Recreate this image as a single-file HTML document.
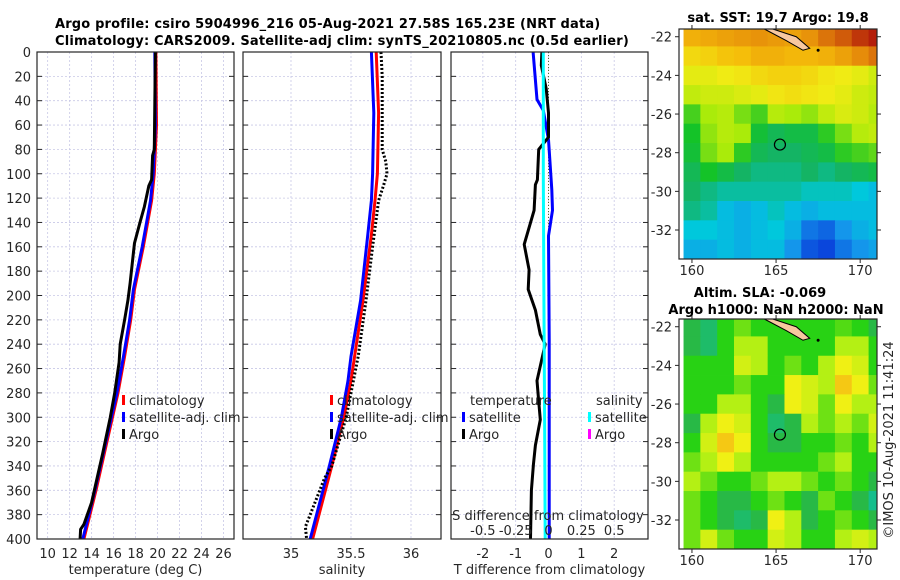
<!DOCTYPE html>
<html><head><meta charset="utf-8"><style>
body{margin:0;background:#fff;}
svg{display:block;font-family:"DejaVu Sans","Liberation Sans",sans-serif;}
.t{font-size:13px;fill:#262626;}
.b{font-size:13px;font-weight:bold;fill:#000;}
.hd{letter-spacing:0.17px;}
</style></head><body>
<svg id="fig" width="900" height="580" viewBox="0 0 900 580" xmlns="http://www.w3.org/2000/svg">
<text class="b hd" x="55" y="28">Argo profile: csiro 5904996_216 05-Aug-2021 27.58S 165.23E (NRT data)</text>
<text class="b hd" x="55" y="45">Climatology: CARS2009. Satellite-adj clim: synTS_20210805.nc (0.5d earlier)</text>
<g id="g"></g>
</svg>
<script>
// depth axis
const depthTicks=[0,20,40,60,80,100,120,140,160,180,200,220,240,260,280,300,320,340,360,380,400];
// temperature profiles
const tClimDepth=[0,60,100,122,140,160,195,220,250,280,320,360,400];
const tClimVal=[19.85,19.9,19.7,19.45,19.1,18.7,17.9,17.55,17.0,16.4,15.4,14.4,13.3];
const tSatVal=[19.75,19.8,19.6,19.35,19.0,18.6,17.8,17.45,16.9,16.3,15.3,14.3,13.2];
const tArgoDepth=[0,80,85,105,110,127,140,157,165,190,204,220,240,255,280,300,330,350,370,388,392,400];
const tArgoVal=[19.8,19.7,19.55,19.45,19.2,18.8,18.4,17.9,17.8,17.5,17.3,17.0,16.6,16.5,16.1,15.7,15.0,14.5,14.0,13.3,13.0,12.95];
const tTicks=[10,12,14,16,18,20,22,24,26];
// salinity profiles
const sClimDepth=[0,50,100,122,150,204,250,270,300,340,400];
const sClimVal=[35.71,35.73,35.72,35.70,35.67,35.60,35.53,35.50,35.44,35.34,35.18];
const sSatVal=[35.67,35.69,35.68,35.67,35.64,35.58,35.50,35.475,35.42,35.32,35.16];
const sArgoDepth=[0,20,80,90,100,110,122,160,204,250,270,300,320,340,350,390,400];
const sArgoVal=[35.75,35.76,35.76,35.79,35.80,35.77,35.73,35.68,35.625,35.56,35.52,35.46,35.40,35.34,35.28,35.12,35.13];
const sTicks=[35,35.5,36];
const sTickLabels=["35","35.5","36"];
// difference profiles
const dSatTDepth=[0,39,48,72,113,130,151,236,400];
const dSatTVal=[-0.47,-0.35,-0.16,0,0.1,0.12,0,0.02,0.02];
const dSatSDepth=[0,100,200,300,400];
const dSatSVal=[-0.04,-0.04,-0.035,-0.03,-0.025];
const dArgoTDepth=[0,11,30,50,70,80,105,109,130,158,179,195,212,232,240,270,280,302,323,339,360,400];
const dArgoTVal=[-0.2,-0.22,-0.07,0,0,-0.3,-0.34,-0.4,-0.44,-0.74,-0.59,-0.62,-0.4,-0.25,-0.1,-0.35,-0.32,-0.25,-0.4,-0.46,-0.52,-0.55];
const dTTicks=[-2,-1,0,1,2];
const dSTicks=[-0.5,-0.25,0,0.25,0.5];
const dSTickLabels=["-0.5","-0.25","0","0.25","0.5"];
// SST map grid (rows -22..-33, cols 160..171)
const sstLats=[-22,-23,-24,-25,-26,-27,-28,-29,-30,-31,-32,-33];
const sstLons=[160,161,162,163,164,165,166,167,168,169,170,171];
const sstRow0=[21.8,21.9,22.0,22.1,22.2,22.1,22.0,22.2,22.5,22.7,23.0,23.2];
const sstRow1=[21.2,21.3,21.5,21.6,21.8,21.8,21.7,21.7,21.8,22.0,22.3,22.5];
const sstRow2=[20.8,20.8,20.9,21.0,21.2,21.3,21.3,21.2,21.0,20.9,20.8,20.6];
const sstRow3=[20.5,20.6,20.6,20.7,20.8,21.0,21.1,21.0,20.9,20.8,20.6,20.5];
const sstRow4=[19.9,20.3,20.4,20.1,19.9,20.4,20.3,20.2,20.5,20.7,20.6,20.4];
const sstRow5=[19.7,20.2,20.4,20.3,19.6,19.4,19.5,19.5,19.8,20.1,20.4,20.5];
const sstRow6=[19.6,20.1,20.3,19.8,19.4,19.3,19.3,19.4,19.5,19.8,19.9,20.0];
const sstRow7=[19.4,19.7,19.5,19.3,19.2,19.2,19.2,19.3,19.2,19.3,19.4,19.5];
const sstRow8=[19.3,19.2,19.1,19.1,19.1,19.1,19.1,19.0,19.0,19.0,18.9,18.8];
const sstRow9=[19.2,19.1,18.8,18.7,18.8,19.0,18.8,18.7,18.8,18.8,18.8,18.8];
const sstRow10=[18.9,18.9,18.8,18.7,18.8,18.9,18.7,18.3,18.2,18.5,18.7,18.8];
const sstRow11=[18.7,18.7,18.8,18.7,18.8,18.8,18.5,18.1,18.0,18.3,18.5,18.6];
// SLA map grid (same lat/lon), units of 0.02 m
const slaRow0=[-0.5,-1,0,0.5,0,0,0,0,0,0.3,0,-0.5];
const slaRow1=[-0.5,-1,0,1,1,0,0,0,0,1,1,0];
const slaRow2=[0,0,0,1.5,1,0,0.5,0,1,2,1.5,0];
const slaRow3=[0,0,0,0.5,0,0,2,1.5,1,3,2,0.5];
const slaRow4=[0,0,1,1,0,-0.5,2,1.5,0.5,2,1,1];
const slaRow5=[-0.5,1,2,1.5,0,-1,-0.5,1,0.5,1,0.5,1.5];
const slaRow6=[0,1.5,3,2,0,-0.5,-0.5,0,0,0.5,0,1];
const slaRow7=[0.5,1,2,1,0,0,0,0,0.5,1,0,0];
const slaRow8=[1,0.5,0,0,0.5,1,1,0.5,0,0.5,0,-0.5];
const slaRow9=[0.5,0,-0.5,-0.5,0,0.5,0,-0.5,0.5,0,-0.5,-1.5];
const slaRow10=[0.5,0,-0.5,-1,-0.5,2,1,-0.5,0,0.5,0,-0.5];
const slaRow11=[0.5,1.5,0.5,0,0,1.5,1,0,0,1,1.5,1];
const mapLatTicks=[-22,-24,-26,-28,-30,-32];
const mapLonTicks=[160,165,170];
const argoLon=165.23, argoLat=-27.58;

const NS="http://www.w3.org/2000/svg";
const G=document.getElementById('g');
function mk(tag,attrs,parent,text){const e=document.createElementNS(NS,tag);for(const k in attrs)e.setAttribute(k,attrs[k]);if(text!==undefined)e.textContent=text;(parent||G).appendChild(e);return e;}

const Y0=52,Y1=539;
const yD=d=>Y0+(d/400)*(Y1-Y0);

function panel(name,x0,x1,xmin,xmax,xticks,xlabels,xtitle){
  const g=mk('g',{});
  
  
  const sx=v=>x0+(v-xmin)/(xmax-xmin)*(x1-x0);
  xticks.forEach((v,i)=>{
    const l=mk('line',{x1:sx(v),x2:sx(v),y1:Y0,y2:Y1,stroke:'#c8c8e6','stroke-width':0.8,'stroke-dasharray':'2,2'},g);
    
    
    const t=mk('text',{x:sx(v),y:558,'text-anchor':'middle',class:'t'},g,xlabels[i]);
    
    
  });
  depthTicks.forEach(d=>{
    mk('line',{x1:x0,x2:x1,y1:yD(d),y2:yD(d),stroke:'#c8c8e6','stroke-width':0.8,'stroke-dasharray':'2,2'},g);
    mk('line',{x1:x0,x2:x0+5,y1:yD(d),y2:yD(d),stroke:'#262626'},g);
    mk('line',{x1:x1-5,x2:x1,y1:yD(d),y2:yD(d),stroke:'#262626'},g);
  });
  const tt=mk('text',{x:(x0+x1)/2,y:574,'text-anchor':'middle',class:'t'},g,xtitle);
  
  
  return {g,sx};
}
function frame(g,x0,x1){mk('rect',{x:x0,y:Y0,width:x1-x0,height:Y1-Y0,fill:'none',stroke:'#262626','stroke-width':1.2},g);}
function line(g,sx,depths,vals,color,w,name,dash){
  const pts=depths.map((d,i)=>sx(vals[i]).toFixed(1)+','+yD(d).toFixed(1)).join(' ');
  const a={points:pts,fill:'none',stroke:color,'stroke-width':w,'stroke-linejoin':'round'};
  if(dash)a['stroke-dasharray']=dash;
  const p=mk('polyline',a,g);
  
  
}
function legend(g,x,y,color,label,name){
  const e=mk('g',{},g);
  
  
  mk('rect',{x:x,y:y-10,width:3,height:10,fill:color},e);
  mk('text',{x:x+7,y:y,class:'t'},e,label);
}

// depth labels
depthTicks.forEach(d=>{
  const t=mk('text',{x:31,y:yD(d)+5,'text-anchor':'end',class:'t'},G,String(d));
  
  
});

// Panel 1 temperature
let P=panel('temperature-panel',37,234,9.03,26.95,tTicks,tTicks.map(String),'temperature (deg C)');
line(P.g,P.sx,tClimDepth,tClimVal,'#ff0000',3,'temp-climatology-line');
line(P.g,P.sx,tClimDepth,tSatVal,'#0000ff',3,'temp-satellite-line');
line(P.g,P.sx,tArgoDepth,tArgoVal,'#000000',3,'temp-argo-line');
frame(P.g,37,234);
legend(P.g,122,405,'#ff0000','climatology','legend-climatology');
legend(P.g,122,422,'#0000ff','satellite-adj. clim','legend-satellite');
legend(P.g,122,439,'#000000','Argo','legend-argo');

// Panel 2 salinity
P=panel('salinity-panel',243,441,34.6,36.25,sTicks,sTickLabels,'salinity');
line(P.g,P.sx,sClimDepth,sClimVal,'#ff0000',3,'sal-climatology-line');
line(P.g,P.sx,sClimDepth,sSatVal,'#0000ff',3,'sal-satellite-line');
line(P.g,P.sx,sArgoDepth,sArgoVal,'#000000',3,'sal-argo-line','2,2');
frame(P.g,243,441);
legend(P.g,330,405,'#ff0000','climatology','legend-climatology');
legend(P.g,330,422,'#0000ff','satellite-adj. clim','legend-satellite');
legend(P.g,330,439,'#000000','Argo','legend-argo');

// Panel 3 differences
P=panel('difference-panel',451,648,-2.97,3.03,dTTicks,dTTicks.map(String),'T difference from climatology');
const sxS=v=>P.sx(v*4);
mk('line',{x1:P.sx(0),x2:P.sx(0),y1:Y0,y2:Y1,stroke:'#556b2f','stroke-width':1,'stroke-dasharray':'1,2'},P.g);
line(P.g,P.sx,dSatTDepth,dSatTVal,'#0000ff',3,'diff-temp-satellite-line');
line(P.g,P.sx,dArgoTDepth,dArgoTVal,'#000000',3,'diff-temp-argo-line');
line(P.g,sxS,dSatSDepth,dSatSVal,'#00ffff',3,'diff-sal-satellite-line');
frame(P.g,451,648);
mk('text',{x:470,y:405,class:'t'},P.g,'temperature');
mk('text',{x:596,y:405,class:'t'},P.g,'salinity');
legend(P.g,462,422,'#0000ff','satellite','legend-temp-satellite');
legend(P.g,462,439,'#000000','Argo','legend-temp-argo');
legend(P.g,588,422,'#00ffff','satellite','legend-sal-satellite');
legend(P.g,588,439,'#ff00ff','Argo','legend-sal-argo');
mk('text',{x:548,y:520,'text-anchor':'middle',class:'t'},P.g,'S difference from climatology');
dSTicks.forEach((v,i)=>{
  const t=mk('text',{x:sxS(v),y:535,'text-anchor':'middle',class:'t'},P.g,dSTickLabels[i]);
  
  
});

// maps
const sstGrid=[sstRow0,sstRow1,sstRow2,sstRow3,sstRow4,sstRow5,sstRow6,sstRow7,sstRow8,sstRow9,sstRow10,sstRow11];
const slaGrid=[slaRow0,slaRow1,slaRow2,slaRow3,slaRow4,slaRow5,slaRow6,slaRow7,slaRow8,slaRow9,slaRow10,slaRow11];
function interp(stops,v){
  if(v<=stops[0][0])return 'rgb('+stops[0][1].join(',')+')';
  for(let i=1;i<stops.length;i++){if(v<=stops[i][0]){const a=stops[i-1],b=stops[i],f=(v-a[0])/(b[0]-a[0]);
    return 'rgb('+a[1].map((c,k)=>Math.round(c+(b[1][k]-c)*f)).join(',')+')';}}
  return 'rgb('+stops[stops.length-1][1].join(',')+')';
}
const sstStops=[[18.0,[10,70,220]],[18.5,[20,150,235]],[18.9,[0,200,220]],[19.3,[20,180,100]],[19.7,[20,195,40]],[20.3,[170,235,10]],[20.9,[240,235,20]],[21.6,[245,190,10]],[22.3,[230,140,10]],[23.2,[180,30,10]]];
const slaStops=[[-1.5,[20,190,140]],[-0.5,[40,185,70]],[0,[40,210,20]],[1,[180,240,20]],[2,[240,240,20]],[3,[245,200,20]]];
function map(name,top,grid,stops){
  const g=mk('g',{});
  
  
  const x0=679,x1=877,bot=top+230;
  const lonX=l=>x0+(l-159.23)/(171-159.23)*(x1-x0);
  const latY=l=>top+(-21.6-l)/(33.5-21.6)*(bot-top);
  grid.forEach((row,r)=>row.forEach((v,c)=>{
    const xa=Math.max(x0,lonX(sstLons[c]-0.5)),xb=Math.min(x1,lonX(sstLons[c]+0.5));
    const ya=Math.max(top,latY(sstLats[r]+0.5)),yb=Math.min(bot,latY(sstLats[r]-0.5));
    const cell=mk('rect',{x:xa,y:ya,width:xb-xa+0.4,height:yb-ya+0.4,fill:interp(stops,v)},g);
    
    
  }));
  const isl=mk('polygon',{points:`${lonX(164.8)},${top} ${lonX(166.2)},${latY(-22.0)} ${lonX(167.0)},${latY(-22.6)} ${lonX(166.6)},${latY(-22.7)} ${lonX(165.6)},${latY(-22.2)} ${lonX(164.3)},${top}`,fill:'#f7c8a0',stroke:'#000','stroke-width':1},g);
  
  
  mk('circle',{cx:lonX(167.5),cy:latY(-22.7),r:1.5,fill:'#000'},g);
  const m=mk('circle',{cx:lonX(argoLon),cy:latY(argoLat),r:5.5,fill:'none',stroke:'#000','stroke-width':1.2},g);
  
  
  mk('rect',{x:x0,y:top,width:x1-x0,height:bot-top,fill:'none',stroke:'#262626','stroke-width':1.2},g);
  mapLatTicks.forEach(l=>{
    mk('line',{x1:x0-4,x2:x0,y1:latY(l),y2:latY(l),stroke:'#262626'},g);
    mk('line',{x1:x1,x2:x1+4,y1:latY(l),y2:latY(l),stroke:'#262626'},g);
    const t=mk('text',{x:x0-7,y:latY(l)+5,'text-anchor':'end',class:'t'},g,String(l));
    
    
  });
  mapLonTicks.forEach(l=>{
    mk('line',{x1:lonX(l),x2:lonX(l),y1:bot,y2:bot+4,stroke:'#262626'},g);
    mk('line',{x1:lonX(l),x2:lonX(l),y1:top-4,y2:top,stroke:'#262626'},g);
    const t=mk('text',{x:lonX(l),y:bot+16,'text-anchor':'middle',class:'t'},g,String(l));
    
    
  });
}
map('sst-map',29,sstGrid,sstStops);
map('sla-map',319,slaGrid,slaStops);
let t;
t=mk('text',{x:778,y:22,'text-anchor':'middle',class:'b'},G,'sat. SST: 19.7 Argo: 19.8');


t=mk('text',{x:760,y:297,'text-anchor':'middle',class:'b'},G,'Altim. SLA: -0.069');


t=mk('text',{x:776,y:314,'text-anchor':'middle',class:'b'},G,'Argo h1000: NaN h2000: NaN');


t=mk('text',{x:0,y:0,'text-anchor':'middle',class:'t',transform:'translate(893,440) rotate(-90)'},G,'©IMOS 10-Aug-2021 11:41:24');


</script>
</body></html>
